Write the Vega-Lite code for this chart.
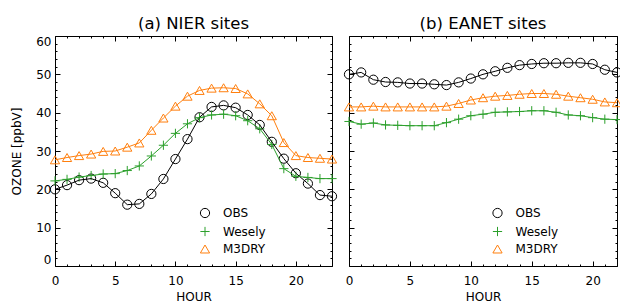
{
  "$schema": "https://vega.github.io/schema/vega-lite/v6.json",
  "background": "white",
  "padding": {"left": 10, "top": 15, "right": 0, "bottom": 0},
  "bounds": "flush",
  "spacing": 17,
  "config": {
    "view": {"stroke": null},
    "font": "DejaVu Sans",
    "axis": {
      "domainColor": "black", "domainWidth": 1, "tickColor": "black", "tickWidth": 1,
      "labelColor": "black", "titleColor": "black", "labelFontSize": 12, "titleFontSize": 12,
      "titleFontWeight": "normal", "grid": false, "labelFont": "DejaVu Sans", "titleFont": "DejaVu Sans"
    },
    "legend": {"labelFontSize": 12, "labelFont": "DejaVu Sans", "labelColor": "black"},
    "title": {"font": "DejaVu Sans", "fontSize": 16.5, "fontWeight": "normal", "color": "black"}
  },
  "datasets": {
    "nier": [
      {"hour":0,"series":"OBS","value":20.0},{"hour":1,"series":"OBS","value":21.1},{"hour":2,"series":"OBS","value":22.4},{"hour":3,"series":"OBS","value":22.8},{"hour":4,"series":"OBS","value":21.7},{"hour":5,"series":"OBS","value":19.0},{"hour":6,"series":"OBS","value":16.0},{"hour":7,"series":"OBS","value":16.2},{"hour":8,"series":"OBS","value":18.8},{"hour":9,"series":"OBS","value":22.7},{"hour":10,"series":"OBS","value":27.9},{"hour":11,"series":"OBS","value":33.1},{"hour":12,"series":"OBS","value":38.8},{"hour":13,"series":"OBS","value":41.5},{"hour":14,"series":"OBS","value":41.9},{"hour":15,"series":"OBS","value":41.3},{"hour":16,"series":"OBS","value":39.4},{"hour":17,"series":"OBS","value":36.8},{"hour":18,"series":"OBS","value":32.4},{"hour":19,"series":"OBS","value":28.0},{"hour":20,"series":"OBS","value":24.2},{"hour":21,"series":"OBS","value":21.5},{"hour":22,"series":"OBS","value":18.5},{"hour":23,"series":"OBS","value":18.2},
      {"hour":0,"series":"Wesely","value":22.2},{"hour":1,"series":"Wesely","value":22.6},{"hour":2,"series":"Wesely","value":23.2},{"hour":3,"series":"Wesely","value":23.6},{"hour":4,"series":"Wesely","value":24.0},{"hour":5,"series":"Wesely","value":24.1},{"hour":6,"series":"Wesely","value":24.9},{"hour":7,"series":"Wesely","value":26.1},{"hour":8,"series":"Wesely","value":28.7},{"hour":9,"series":"Wesely","value":31.5},{"hour":10,"series":"Wesely","value":34.6},{"hour":11,"series":"Wesely","value":37.1},{"hour":12,"series":"Wesely","value":38.7},{"hour":13,"series":"Wesely","value":39.4},{"hour":14,"series":"Wesely","value":39.6},{"hour":15,"series":"Wesely","value":39.2},{"hour":16,"series":"Wesely","value":37.9},{"hour":17,"series":"Wesely","value":35.8},{"hour":18,"series":"Wesely","value":31.7},{"hour":19,"series":"Wesely","value":25.4},{"hour":20,"series":"Wesely","value":23.4},{"hour":21,"series":"Wesely","value":23.1},{"hour":22,"series":"Wesely","value":22.8},{"hour":23,"series":"Wesely","value":22.8},
      {"hour":0,"series":"M3DRY","value":27.7},{"hour":1,"series":"M3DRY","value":28.3},{"hour":2,"series":"M3DRY","value":28.8},{"hour":3,"series":"M3DRY","value":29.2},{"hour":4,"series":"M3DRY","value":29.9},{"hour":5,"series":"M3DRY","value":30.0},{"hour":6,"series":"M3DRY","value":31.0},{"hour":7,"series":"M3DRY","value":32.1},{"hour":8,"series":"M3DRY","value":35.4},{"hour":9,"series":"M3DRY","value":38.6},{"hour":10,"series":"M3DRY","value":41.7},{"hour":11,"series":"M3DRY","value":44.3},{"hour":12,"series":"M3DRY","value":45.8},{"hour":13,"series":"M3DRY","value":46.4},{"hour":14,"series":"M3DRY","value":46.5},{"hour":15,"series":"M3DRY","value":46.3},{"hour":16,"series":"M3DRY","value":44.9},{"hour":17,"series":"M3DRY","value":42.3},{"hour":18,"series":"M3DRY","value":39.2},{"hour":19,"series":"M3DRY","value":32.2},{"hour":20,"series":"M3DRY","value":28.8},{"hour":21,"series":"M3DRY","value":28.3},{"hour":22,"series":"M3DRY","value":28.1},{"hour":23,"series":"M3DRY","value":27.9}
    ],
    "eanet": [
      {"hour":0,"series":"OBS","value":50.0},{"hour":1,"series":"OBS","value":50.5},{"hour":2,"series":"OBS","value":48.6},{"hour":3,"series":"OBS","value":48.0},{"hour":4,"series":"OBS","value":47.9},{"hour":5,"series":"OBS","value":47.6},{"hour":6,"series":"OBS","value":47.6},{"hour":7,"series":"OBS","value":47.4},{"hour":8,"series":"OBS","value":47.2},{"hour":9,"series":"OBS","value":47.9},{"hour":10,"series":"OBS","value":48.9},{"hour":11,"series":"OBS","value":50.0},{"hour":12,"series":"OBS","value":50.8},{"hour":13,"series":"OBS","value":51.7},{"hour":14,"series":"OBS","value":52.4},{"hour":15,"series":"OBS","value":52.7},{"hour":16,"series":"OBS","value":52.9},{"hour":17,"series":"OBS","value":52.9},{"hour":18,"series":"OBS","value":53.0},{"hour":19,"series":"OBS","value":53.0},{"hour":20,"series":"OBS","value":52.7},{"hour":21,"series":"OBS","value":51.2},{"hour":22,"series":"OBS","value":50.5},
      {"hour":0,"series":"Wesely","value":37.7},{"hour":1,"series":"Wesely","value":37.0},{"hour":2,"series":"Wesely","value":37.3},{"hour":3,"series":"Wesely","value":36.8},{"hour":4,"series":"Wesely","value":36.7},{"hour":5,"series":"Wesely","value":36.6},{"hour":6,"series":"Wesely","value":36.6},{"hour":7,"series":"Wesely","value":36.6},{"hour":8,"series":"Wesely","value":37.4},{"hour":9,"series":"Wesely","value":38.3},{"hour":10,"series":"Wesely","value":39.2},{"hour":11,"series":"Wesely","value":39.6},{"hour":12,"series":"Wesely","value":40.1},{"hour":13,"series":"Wesely","value":40.2},{"hour":14,"series":"Wesely","value":40.3},{"hour":15,"series":"Wesely","value":40.5},{"hour":16,"series":"Wesely","value":40.5},{"hour":17,"series":"Wesely","value":40.1},{"hour":18,"series":"Wesely","value":39.4},{"hour":19,"series":"Wesely","value":39.2},{"hour":20,"series":"Wesely","value":38.7},{"hour":21,"series":"Wesely","value":38.3},{"hour":22,"series":"Wesely","value":38.2},
      {"hour":0,"series":"M3DRY","value":41.5},{"hour":1,"series":"M3DRY","value":41.5},{"hour":2,"series":"M3DRY","value":41.7},{"hour":3,"series":"M3DRY","value":41.5},{"hour":4,"series":"M3DRY","value":41.5},{"hour":5,"series":"M3DRY","value":41.5},{"hour":6,"series":"M3DRY","value":41.5},{"hour":7,"series":"M3DRY","value":41.5},{"hour":8,"series":"M3DRY","value":41.7},{"hour":9,"series":"M3DRY","value":42.4},{"hour":10,"series":"M3DRY","value":43.3},{"hour":11,"series":"M3DRY","value":43.9},{"hour":12,"series":"M3DRY","value":44.3},{"hour":13,"series":"M3DRY","value":44.5},{"hour":14,"series":"M3DRY","value":44.8},{"hour":15,"series":"M3DRY","value":45.0},{"hour":16,"series":"M3DRY","value":45.0},{"hour":17,"series":"M3DRY","value":44.8},{"hour":18,"series":"M3DRY","value":44.3},{"hour":19,"series":"M3DRY","value":43.9},{"hour":20,"series":"M3DRY","value":43.5},{"hour":21,"series":"M3DRY","value":42.8},{"hour":22,"series":"M3DRY","value":42.6}
    ]
  },
  "hconcat": [
    {
      "width": 277, "height": 230,
      "title": {"text": "(a) NIER sites", "anchor": "middle", "frame": "group", "offset": 3},
      "data": {"name": "nier"},
      "layer": [
        {
          "mark": {"type": "point", "filled": false, "strokeWidth": 1, "opacity": 1},
          "encoding": {
            "x": {"field": "hour", "type": "quantitative", "title": "HOUR",
              "scale": {"domain": [0, 23], "nice": false, "zero": false},
              "axis": {"orient": "bottom", "values": [0,1,2,3,4,5,6,7,8,9,10,11,12,13,14,15,16,17,18,19,20,21,22,23],
                "labelExpr": "datum.value % 5 === 0 ? datum.label : ''",
                "tickSize": {"condition": {"test": "datum.value % 5 === 0", "value": -5}, "value": -2},
                "labelPadding": 14, "titlePadding": 5, "labelFlush": false}},
            "y": {"field": "value", "type": "quantitative", "title": "OZONE [ppbV]",
              "scale": {"domain": [0, 60], "nice": false},
              "axis": {"orient": "left", "values": [0,2,4,6,8,10,12,14,16,18,20,22,24,26,28,30,32,34,36,38,40,42,44,46,48,50,52,54,56,58,60],
                "labelExpr": "datum.value % 10 === 0 ? datum.label : ''",
                "tickSize": {"condition": {"test": "datum.value % 10 === 0", "value": -5}, "value": -2},
                "labelPadding": 9, "titlePadding": 12, "labelFlush": true}},
            "color": {"field": "series", "type": "nominal", "scale": {"domain": ["OBS", "Wesely", "M3DRY"], "range": ["#000000", "#2ca02c", "#ff7f0e"]},
              "legend": {"orient": "none", "legendX": 144, "legendY": 171, "title": null, "symbolStrokeWidth": 1, "rowPadding": 4.5, "labelOffset": 12, "symbolSize": 85}},
            "shape": {"field": "series", "type": "nominal", "scale": {"domain": ["OBS", "Wesely", "M3DRY"], "range": ["circle", "M-1,0L1,0M0,-1L0,1", "triangle-up"]}},
            "size": {"field": "series", "type": "nominal", "scale": {"domain": ["OBS", "Wesely", "M3DRY"], "range": [85, 85, 120]}}
          }
        },
        {
          "mark": {"type": "line", "strokeWidth": 1},
          "encoding": {
            "x": {"field": "hour", "type": "quantitative", "axis": null},
            "y": {"field": "value", "type": "quantitative", "axis": null},
            "stroke": {"field": "series", "type": "nominal", "scale": {"domain": ["OBS", "Wesely", "M3DRY"], "range": ["#000000", "#2ca02c", "#ff7f0e"]}, "legend": null}
          }
        },
        {
          "mark": {"type": "point", "opacity": 0},
          "encoding": {
            "x": {"field": "hour", "type": "quantitative",
              "axis": {"orient": "top", "title": null, "labels": false, "values": [0,1,2,3,4,5,6,7,8,9,10,11,12,13,14,15,16,17,18,19,20,21,22,23],
                "tickSize": {"condition": {"test": "datum.value % 5 === 0", "value": -5}, "value": -2}}},
            "y": {"field": "value", "type": "quantitative",
              "axis": {"orient": "right", "title": null, "labels": false, "values": [0,2,4,6,8,10,12,14,16,18,20,22,24,26,28,30,32,34,36,38,40,42,44,46,48,50,52,54,56,58,60],
                "tickSize": {"condition": {"test": "datum.value % 10 === 0", "value": -5}, "value": -2}}}
          }
        }
      ],
      "resolve": {"axis": {"x": "independent", "y": "independent"}}
    },
    {
      "width": 268, "height": 230,
      "title": {"text": "(b) EANET sites", "anchor": "middle", "frame": "group", "offset": 3},
      "data": {"name": "eanet"},
      "layer": [
        {
          "mark": {"type": "point", "filled": false, "strokeWidth": 1, "opacity": 1},
          "encoding": {
            "x": {"field": "hour", "type": "quantitative", "title": "HOUR",
              "scale": {"domain": [0, 22], "nice": false, "zero": false},
              "axis": {"orient": "bottom", "values": [0,1,2,3,4,5,6,7,8,9,10,11,12,13,14,15,16,17,18,19,20,21,22],
                "labelExpr": "datum.value % 5 === 0 ? datum.label : ''",
                "tickSize": {"condition": {"test": "datum.value % 5 === 0", "value": -5}, "value": -2},
                "labelPadding": 14, "titlePadding": 5, "labelFlush": false}},
            "y": {"field": "value", "type": "quantitative", "title": null,
              "scale": {"domain": [0, 60], "nice": false},
              "axis": {"orient": "left", "labels": false, "values": [0,2,4,6,8,10,12,14,16,18,20,22,24,26,28,30,32,34,36,38,40,42,44,46,48,50,52,54,56,58,60],
                "tickSize": {"condition": {"test": "datum.value % 10 === 0", "value": -5}, "value": -2}}},
            "color": {"field": "series", "type": "nominal", "scale": {"domain": ["OBS", "Wesely", "M3DRY"], "range": ["#000000", "#2ca02c", "#ff7f0e"]},
              "legend": {"orient": "none", "legendX": 142.5, "legendY": 171, "title": null, "symbolStrokeWidth": 1, "rowPadding": 4.5, "labelOffset": 12, "symbolSize": 85}},
            "shape": {"field": "series", "type": "nominal", "scale": {"domain": ["OBS", "Wesely", "M3DRY"], "range": ["circle", "M-1,0L1,0M0,-1L0,1", "triangle-up"]}},
            "size": {"field": "series", "type": "nominal", "scale": {"domain": ["OBS", "Wesely", "M3DRY"], "range": [85, 85, 120]}}
          }
        },
        {
          "mark": {"type": "line", "strokeWidth": 1},
          "encoding": {
            "x": {"field": "hour", "type": "quantitative", "axis": null},
            "y": {"field": "value", "type": "quantitative", "axis": null},
            "stroke": {"field": "series", "type": "nominal", "scale": {"domain": ["OBS", "Wesely", "M3DRY"], "range": ["#000000", "#2ca02c", "#ff7f0e"]}, "legend": null}
          }
        },
        {
          "mark": {"type": "point", "opacity": 0},
          "encoding": {
            "x": {"field": "hour", "type": "quantitative",
              "axis": {"orient": "top", "title": null, "labels": false, "values": [0,1,2,3,4,5,6,7,8,9,10,11,12,13,14,15,16,17,18,19,20,21,22],
                "tickSize": {"condition": {"test": "datum.value % 5 === 0", "value": -5}, "value": -2}}},
            "y": {"field": "value", "type": "quantitative",
              "axis": {"orient": "right", "title": null, "labels": false, "values": [0,2,4,6,8,10,12,14,16,18,20,22,24,26,28,30,32,34,36,38,40,42,44,46,48,50,52,54,56,58,60],
                "tickSize": {"condition": {"test": "datum.value % 10 === 0", "value": -5}, "value": -2}}}
          }
        }
      ],
      "resolve": {"axis": {"x": "independent", "y": "independent"}}
    }
  ],
  "resolve": {"scale": {"color": "independent", "stroke": "independent", "shape": "independent", "size": "independent", "x": "independent", "y": "independent"}, "legend": {"color": "independent", "shape": "independent", "size": "independent"}}
}
